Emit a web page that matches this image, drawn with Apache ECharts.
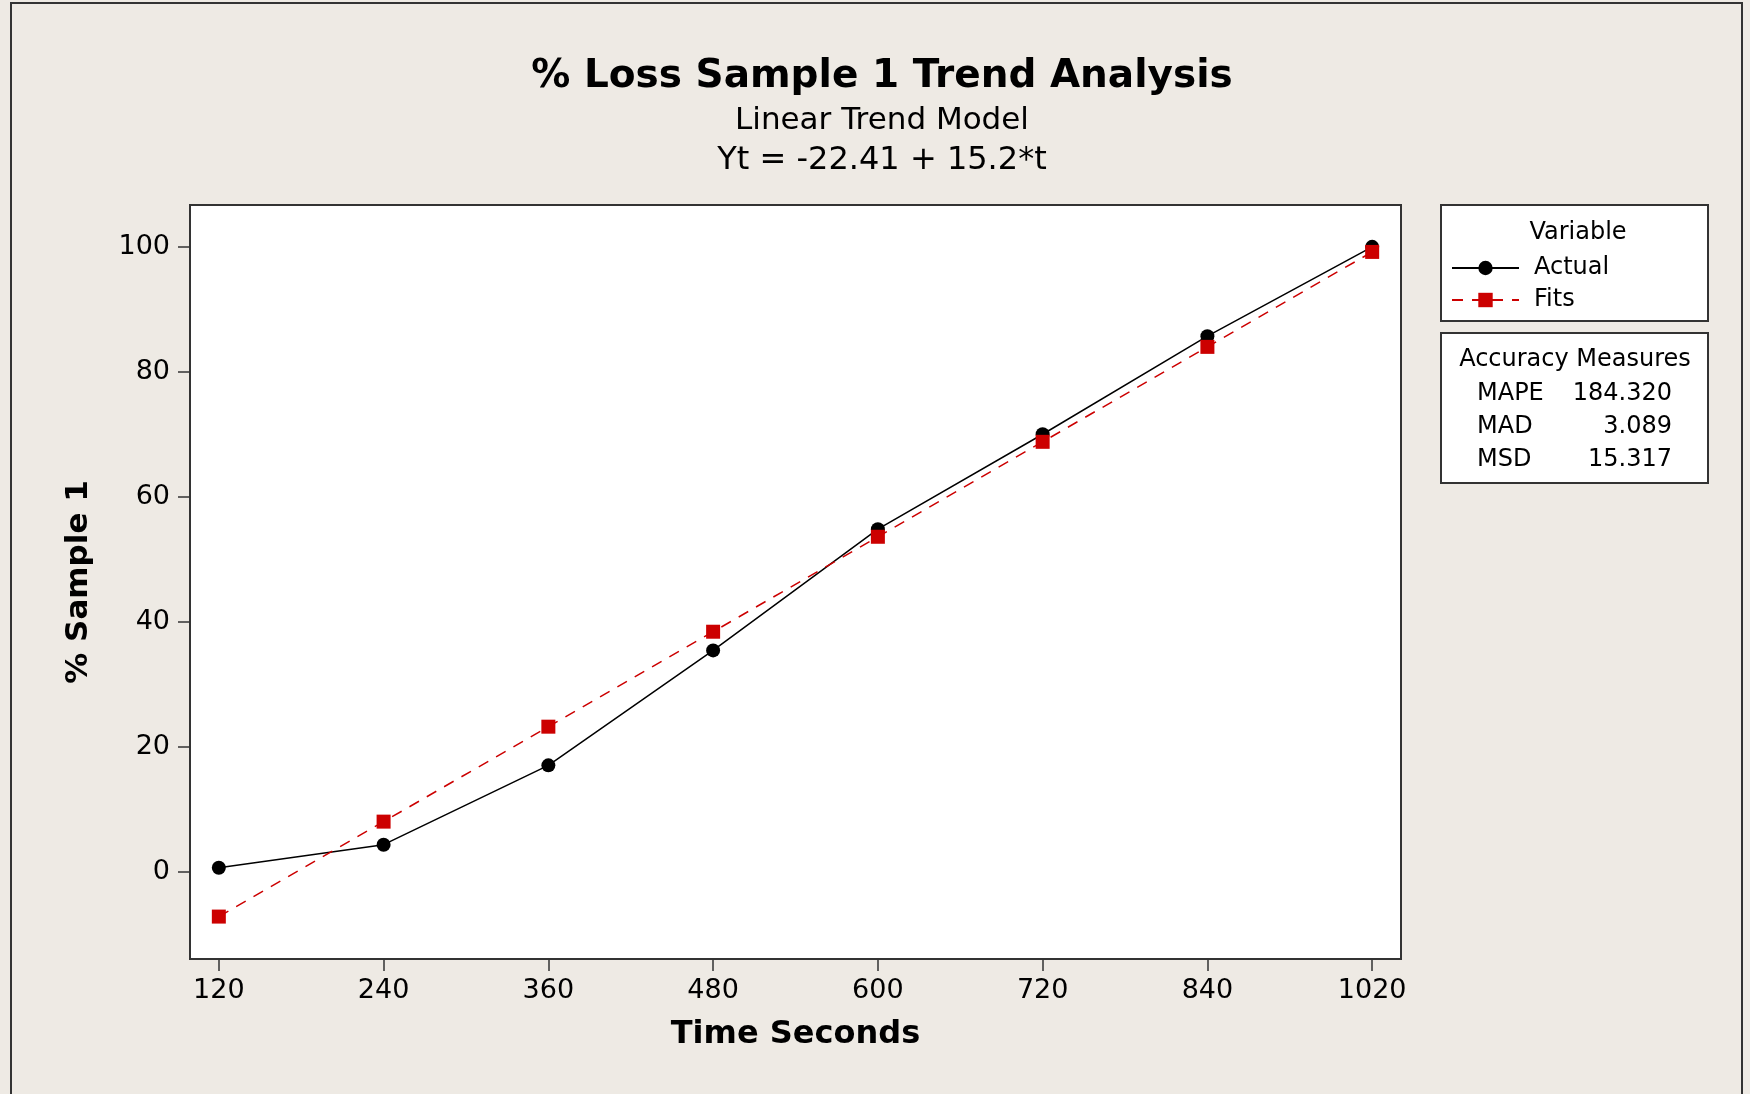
<!DOCTYPE html>
<html>
<head>
<meta charset="utf-8">
<script src="https://cdn.jsdelivr.net/npm/echarts@6/dist/echarts.min.js"></script>
<style>
html,body{margin:0;padding:0;background:#EEEAE4;}
#chart{width:1750px;height:1094px;}
</style>
</head>
<body>
<div id="chart"></div>
<script>
// ---- data ----
const tIndex = [1, 2, 3, 4, 5, 6, 7, 8];
const timeLabels = ["120", "240", "360", "480", "600", "720", "840", "1020"];
const actual = [0.6, 4.3, 17.0, 35.4, 54.8, 70.0, 85.7, 100.0];
const fits = [-7.21, 7.99, 23.19, 38.39, 53.59, 68.79, 83.99, 99.19];
const yTicks = [0, 20, 40, 60, 80, 100];
const accuracyNames = ["MAPE", "MAD", "MSD"];
const accuracyValues = ["184.320", "3.089", "15.317"];

const FONT = "DejaVu Sans";
const chart = echarts.init(document.getElementById('chart'), null, {renderer: 'canvas'});

const accGraphics = [];
accuracyNames.forEach((n, i) => {
  const y = 394 + i * 33;
  accGraphics.push({type: 'text', x: 1477, y: y, style: {text: n, font: '24px "' + FONT + '"', fill: '#000', align: 'left', verticalAlign: 'middle'}});
  accGraphics.push({type: 'text', x: 1672, y: y, style: {text: accuracyValues[i], font: '24px "' + FONT + '"', fill: '#000', align: 'right', verticalAlign: 'middle'}});
});

const option = {
  backgroundColor: '#EEEAE4',
  animation: false,
  title: [
    {text: '% Loss Sample 1 Trend Analysis', left: 877, top: 52, textAlign: 'center',
     textStyle: {fontFamily: FONT, fontSize: 39, fontWeight: 'bold', color: '#000'}},
    {text: 'Linear Trend Model', left: 877, top: 100, textAlign: 'center',
     textStyle: {fontFamily: FONT, fontSize: 31, fontWeight: 'normal', color: '#000'}},
    {text: 'Yt = -22.41 + 15.2*t', left: 877, top: 140, textAlign: 'center',
     textStyle: {fontFamily: FONT, fontSize: 32, fontWeight: 'normal', color: '#000'}}
  ],
  grid: {left: 190, top: 205, width: 1211, height: 754, show: true, backgroundColor: '#fff',
         borderColor: '#333', borderWidth: 2, containLabel: false},
  xAxis: {
    type: 'value', min: 0.825, max: 8.175,
    name: 'Time Seconds', nameLocation: 'middle', nameGap: 60,
    nameTextStyle: {fontFamily: FONT, fontSize: 32, fontWeight: 'bold', color: '#000'},
    axisLine: {show: true, onZero: false, lineStyle: {color: '#333', width: 2}},
    axisTick: {show: true, length: 12, lineStyle: {color: '#333', width: 1.5}, customValues: tIndex},
    axisLabel: {customValues: tIndex, margin: 18, fontFamily: FONT, fontSize: 27, color: '#000',
                formatter: v => timeLabels[Math.round(v) - 1]},
    splitLine: {show: false}
  },
  yAxis: {
    type: 'value', min: -14, max: 106.7,
    name: '% Sample 1', nameLocation: 'middle', nameGap: 96,
    nameTextStyle: {fontFamily: FONT, fontSize: 31, fontWeight: 'bold', color: '#000'},
    axisLine: {show: true, onZero: false, lineStyle: {color: '#333', width: 2}},
    axisTick: {show: true, length: 12, lineStyle: {color: '#333', width: 1.5}, customValues: yTicks},
    axisLabel: {customValues: yTicks, margin: 20, fontFamily: FONT, fontSize: 27, color: '#000'},
    splitLine: {show: false}
  },
  legend: {
    orient: 'vertical', left: 1451, top: 256, padding: 0,
    itemWidth: 67, itemHeight: 18, itemGap: 8,
    textStyle: {fontFamily: FONT, fontSize: 24, lineHeight: 24, color: '#000', padding: [0, 0, 0, 10]},
    data: ['Actual', 'Fits']
  },
  series: [
    {name: 'Actual', type: 'line', data: tIndex.map((t, i) => [t, actual[i]]),
     symbol: 'circle', symbolSize: 14, z: 2,
     lineStyle: {color: '#000', width: 1.5}, itemStyle: {color: '#000'}},
    {name: 'Fits', type: 'line', data: tIndex.map((t, i) => [t, fits[i]]),
     symbol: 'rect', symbolSize: 14, z: 3,
     lineStyle: {color: '#CC0000', width: 1.5, type: [11, 9]}, itemStyle: {color: '#CC0000'}}
  ],
  graphic: [
    {type: 'rect', x: 11, y: 3, shape: {width: 1731, height: 1110},
     style: {fill: 'none', stroke: '#333', lineWidth: 2}, silent: true, z: -1},
    {type: 'rect', x: 1441, y: 205, shape: {width: 267, height: 116},
     style: {fill: '#fff', stroke: '#333', lineWidth: 2}, z: -1},
    {type: 'text', x: 1578, y: 233, style: {text: 'Variable', font: '24px "' + FONT + '"', fill: '#000', align: 'center', verticalAlign: 'middle'}},
    {type: 'rect', x: 1441, y: 333, shape: {width: 267, height: 150},
     style: {fill: '#fff', stroke: '#333', lineWidth: 2}, z: -1},
    {type: 'text', x: 1575, y: 360, style: {text: 'Accuracy Measures', font: '24px "' + FONT + '"', fill: '#000', align: 'center', verticalAlign: 'middle'}}
  ].concat(accGraphics)
};
chart.setOption(option);
</script>
</body>
</html>
